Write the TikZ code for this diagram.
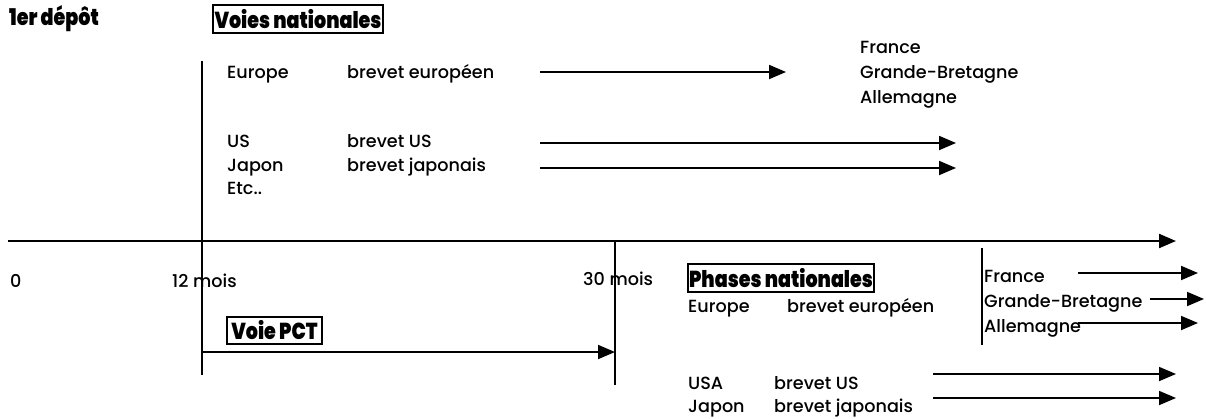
\documentclass[tikz,border=0pt]{standalone}
\usepackage{fontspec}
\setmainfont{Poppins}
\IfFontExistsTF{Poppins Medium}{\newfontfamily\corps{Poppins Medium}}{\newcommand\corps{\mdseries}}
\IfFontExistsTF{Poppins Black}{\newfontfamily\gras{Poppins Black}}{\newcommand\gras{\bfseries}}
\usetikzlibrary{arrows.meta}
\newcommand\entete[1]{\scalebox{1.06}[1.28]{#1}}
\tikzset{txt/.style={anchor=base west,inner sep=0pt,font=\fontsize{17.6}{20}\selectfont\corps},
 titre/.style={draw,line width=1.3pt,inner sep=0pt,font=\fontsize{18}{20}\selectfont\gras},
 trait/.style={line width=2pt},
 fleche/.style={line width=1.8pt,-{Triangle[length=17pt,width=14pt]}},
 }

\begin{document}
\begin{tikzpicture}[x=1pt,y=-1pt]
        \useasboundingbox (0,0) rectangle (1206,418);
        \node[anchor=base west,inner sep=0pt,font=\fontsize{18}{20}\selectfont\gras] (depot) at (9,25) {\entete{1er dépôt}};
        \node[titre,minimum width=170,minimum height=28] (voies) at (298,19) {\entete{Voies nationales}};
        \coordinate (v12h) at (202,61);
        \coordinate (v12b) at (202,375);
        \draw[trait] (v12h) -- (v12b);
        \node[txt] (eu) at (227,78) {Europe};
        \node[txt] (beu) at (347,78) {brevet européen};
        \node[txt] (fr) at (860,53) {France};
        \node[txt] (gb) at (860,78) {Grande-Bretagne};
        \node[txt] (de) at (860,103) {Allemagne};
        \node[txt] (us) at (227,147) {US};
        \node[txt] (bus) at (347,147) {brevet US};
        \node[txt] (jp) at (227,171) {Japon};
        \node[txt] (bjp) at (347,171) {brevet japonais};
        \node[txt] (etc) at (227,194) {Etc..};
        \coordinate (f1a) at (540,72);
        \coordinate (f1b) at (786,72);
        \coordinate (f2a) at (540,143);
        \coordinate (f2b) at (956,143);
        \coordinate (f3a) at (540,168);
        \coordinate (f3b) at (956,168);
        \draw[fleche] (f1a) -- (f1b);
        \draw[fleche] (f2a) -- (f2b);
        \draw[fleche] (f3a) -- (f3b);
        \coordinate (t0) at (8,241);
        \coordinate (t1) at (1176,241);
        \draw[fleche,line width=2.2pt] (t0) -- (t1);
        \node[txt] (zero) at (10,287) {0};
        \node[txt] (m12) at (172,287) {12 mois};
        \node[txt] (m30) at (583,285) {30 mois};
        \coordinate (v30h) at (615,241);
        \coordinate (v30b) at (615,385);
        \draw[trait] (v30h) -- (v30b);
        \node[titre,minimum width=95,minimum height=27] (pct) at (274.5,330.5) {\entete{Voie PCT}};
        \coordinate (p0) at (202,352);
        \coordinate (p1) at (615,352);
        \draw[fleche] (p0) -- (p1);
        \node[titre,minimum width=186,minimum height=28] (phases) at (781,278) {\entete{Phases nationales}};
        \node[txt] (eu2) at (688,312) {Europe};
        \node[txt] (beu2) at (787,312) {brevet européen};
        \coordinate (vdh) at (982,248);
        \coordinate (vdb) at (982,345);
        \draw[trait] (vdh) -- (vdb);
        \node[txt] (fr2) at (984,282) {France};
        \node[txt] (gb2) at (984,307) {Grande-Bretagne};
        \node[txt] (de2) at (984,332) {Allemagne};
        \coordinate (g1a) at (1078,273);
        \coordinate (g1b) at (1198,273);
        \coordinate (g2a) at (1150,299);
        \coordinate (g2b) at (1204,299);
        \coordinate (g3a) at (1078,323);
        \coordinate (g3b) at (1198,323);
        \draw[fleche] (g1a) -- (g1b);
        \draw[fleche] (g2a) -- (g2b);
        \draw[fleche] (g3a) -- (g3b);
        \node[txt] (usa) at (688,389) {USA};
        \node[txt] (bus2) at (774,389) {brevet US};
        \node[txt] (jp2) at (688,412) {Japon};
        \node[txt] (bjp2) at (774,412) {brevet japonais};
        \coordinate (h1a) at (933,374);
        \coordinate (h1b) at (1176,374);
        \coordinate (h2a) at (933,398);
        \coordinate (h2b) at (1176,398);
        \draw[fleche] (h1a) -- (h1b);
        \draw[fleche] (h2a) -- (h2b);
    \end{tikzpicture}
\end{document}
